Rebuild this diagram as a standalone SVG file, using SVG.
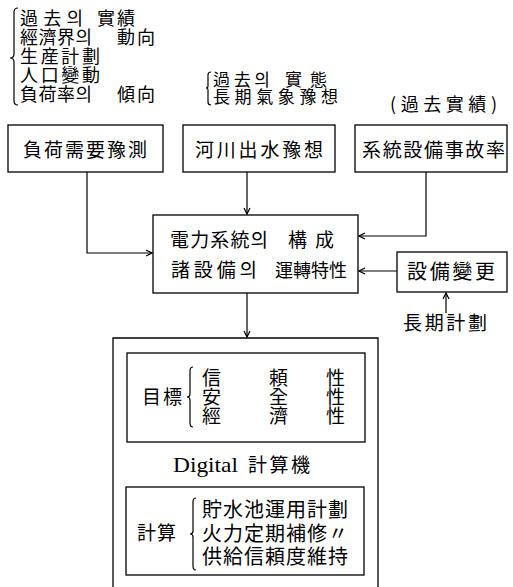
<svg xmlns="http://www.w3.org/2000/svg" width="513" height="587" viewBox="0 0 513 587">
<defs>
<style>
.bx{fill:none;stroke:#000;stroke-width:1.3}
.ln{fill:none;stroke:#000;stroke-width:1.2}
.br{fill:none;stroke:#000;stroke-width:1.2}
text{font-family:"Noto Sans CJK KR","Noto Sans CJK TC",sans-serif;fill:#000;font-weight:400}
.s{font-size:17px}
.t{font-size:18px}
.m{font-size:19px}
.l{font-size:20px}
.serif{font-family:"Liberation Serif",serif;font-size:22px}
</style>
<marker id="ah" viewBox="0 0 8 8" refX="7" refY="4" markerWidth="8" markerHeight="8" markerUnits="userSpaceOnUse" orient="auto">
<path d="M1,1 L7,4 L1,7" fill="none" stroke="#000" stroke-width="1.2"/>
</marker>
</defs>
<rect width="513" height="587" fill="#fff"/>

<g id="inputs1">
<path class="br" d="M18,8 Q14,8 14,12 L14,54 Q14,58 10,58 Q14,58 14,62 L14,101 Q14,105 18,105"/>
<text class="t" x="20" y="25" textLength="63" lengthAdjust="spacing">過去의</text>
<text class="t" x="97" y="25" textLength="38" lengthAdjust="spacing">實績</text>
<text class="t" x="20" y="44" textLength="72" lengthAdjust="spacing">經濟界의</text>
<text class="t" x="117" y="44" textLength="38" lengthAdjust="spacing">動向</text>
<text class="t" x="20" y="63" textLength="80" lengthAdjust="spacing">生産計劃</text>
<text class="t" x="20" y="82" textLength="80" lengthAdjust="spacing">人口變動</text>
<text class="t" x="20" y="101" textLength="72" lengthAdjust="spacing">負荷率의</text>
<text class="t" x="117" y="101" textLength="38" lengthAdjust="spacing">傾向</text>
</g>

<g id="inputs2">
<path class="br" d="M211,72 Q208,72 208,75 L208,86 Q208,88 206,88 Q208,88 208,90 L208,102 Q208,105 211,105"/>
<text class="s" x="213" y="86" textLength="57" lengthAdjust="spacing">過去의</text>
<text class="s" x="285" y="86" textLength="42" lengthAdjust="spacing">實態</text>
<text class="s" x="213" y="103" textLength="125" lengthAdjust="spacing">長期氣象豫想</text>
</g>

<g id="inputs3">
<text class="t" x="390" y="111" textLength="107" lengthAdjust="spacing">(過去實績)</text>
</g>

<g id="load">
<rect class="bx" x="8" y="125" width="155" height="47"/>
<text class="m" x="23" y="157" textLength="124" lengthAdjust="spacing">負荷需要豫測</text>
</g>

<g id="river">
<rect class="bx" x="183" y="125" width="152" height="47"/>
<text class="m" x="195" y="157" textLength="128" lengthAdjust="spacing">河川出水豫想</text>
</g>

<g id="fault">
<rect class="bx" x="355" y="125" width="152" height="47"/>
<text class="m" x="362" y="157" textLength="143" lengthAdjust="spacing">系統設備事故率</text>
</g>

<g id="system">
<rect class="bx" x="153" y="215" width="205" height="78"/>
<text class="m" x="170" y="247" textLength="98" lengthAdjust="spacing">電力系統의</text>
<text class="m" x="288" y="247" textLength="46" lengthAdjust="spacing">構成</text>
<text class="m" x="171" y="277" textLength="86" lengthAdjust="spacing">諸設備의</text>
<text class="t" x="275" y="277">運轉特性</text>
</g>

<g id="change">
<rect class="bx" x="397" y="252" width="110" height="40"/>
<text class="l" x="407" y="279" textLength="88" lengthAdjust="spacing">設備變更</text>
</g>

<g id="longterm">
<text class="m" x="403" y="330" textLength="84" lengthAdjust="spacing">長期計劃</text>
</g>

<g id="computer">
<path class="bx" d="M113,590 V338 H378 V590"/>
<text class="serif" x="173" y="472" textLength="65" lengthAdjust="spacingAndGlyphs">Digital</text>
<text class="m" x="248" y="472" textLength="62" lengthAdjust="spacing">計算機</text>
</g>

<g id="goal">
<rect class="bx" x="127" y="353" width="238" height="89"/>
<text class="m" x="142" y="404" textLength="40" lengthAdjust="spacing">目標</text>
<path class="br" d="M193,367 Q190,367 190,371 L190,394 Q190,397 187,397 Q190,397 190,400 L190,423 Q190,427 193,427"/>
<text class="m" x="202" y="385">信</text>
<text class="m" x="269" y="385">頼</text>
<text class="m" x="326" y="385">性</text>
<text class="m" x="202" y="404">安</text>
<text class="m" x="269" y="404">全</text>
<text class="m" x="326" y="404">性</text>
<text class="m" x="202" y="423">經</text>
<text class="m" x="269" y="423">濟</text>
<text class="m" x="326" y="423">性</text>
</g>

<g id="calc">
<rect class="bx" x="126" y="487" width="238" height="88"/>
<text class="m" x="137" y="540" textLength="39" lengthAdjust="spacing">計算</text>
<path class="br" d="M196,498 Q193,498 193,502 L193,531 Q193,534 190,534 Q193,534 193,537 L193,566 Q193,570 196,570"/>
<text class="l" x="202" y="517" textLength="146" lengthAdjust="spacing">貯水池運用計劃</text>
<text class="l" x="202" y="541" textLength="146" lengthAdjust="spacing">火力定期補修〃</text>
<text class="l" x="202" y="564" textLength="146" lengthAdjust="spacing">供給信頼度維持</text>
</g>

<g id="connectors">
<path class="ln" d="M87,172 V253 H152" marker-end="url(#ah)"/>
<path class="ln" d="M247,172 V214" marker-end="url(#ah)"/>
<path class="ln" d="M426,172 V236 H359" marker-end="url(#ah)"/>
<path class="ln" d="M397,271 H359" marker-end="url(#ah)"/>
<path class="ln" d="M247,293 V337" marker-end="url(#ah)"/>
<path class="ln" d="M446,313 V293" marker-end="url(#ah)"/>
</g>
</svg>
